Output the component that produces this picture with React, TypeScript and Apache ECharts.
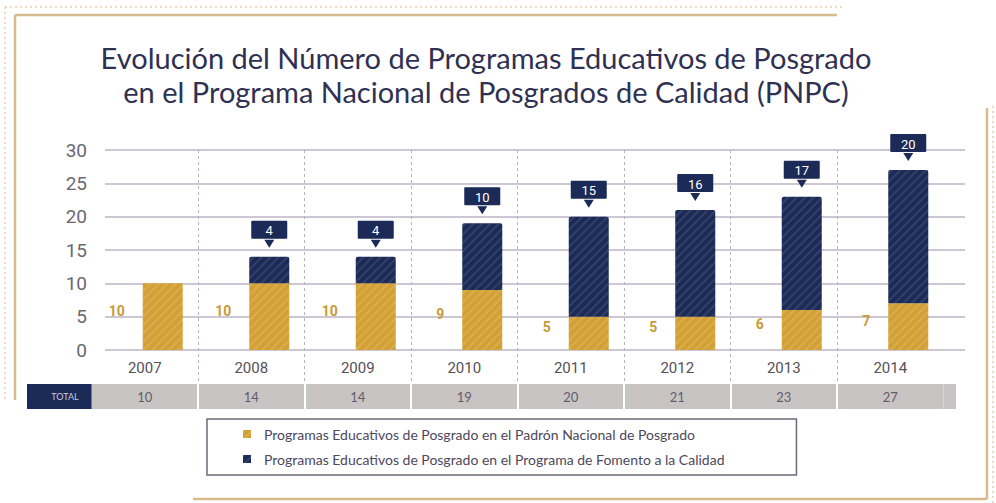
import React, { useEffect, useRef } from "react";
import * as echarts from "echarts";

const years = ["2007", "2008", "2009", "2010", "2011", "2012", "2013", "2014"];
const padronValues = [10, 10, 10, 9, 5, 5, 6, 7];
const fomentoValues = [0, 4, 4, 10, 15, 16, 17, 20];
const totalValues = [10, 14, 14, 19, 20, 21, 23, 27];
const yTicks = { min: 0, max: 30, interval: 5 };

const seriesNames = [
  "Programas Educativos de Posgrado en el Padrón Nacional de Posgrado",
  "Programas Educativos de Posgrado en el Programa de Fomento a la Calidad",
];
const titleLines = [
  "Evolución del Número de Programas Educativos de Posgrado",
  "en el Programa Nacional de Posgrados de Calidad (PNPC)",
];

const GOLD = "#d3a034";
const NAVY = "#1b2a56";
const TAN = "#d8bb8c";
const DOT = "#eadbc2";
const COND = "'Liberation Sans Narrow', 'Roboto', sans-serif";

export default function App() {
  const ref = useRef<HTMLDivElement>(null);
  useEffect(() => {
    if (!ref.current) return;
    const chart = echarts.init(ref.current, undefined, { renderer: "svg" });
    const stripe = (c: string) => ({
      symbol: "rect",
      symbolSize: 1,
      color: c,
      dashArrayX: [1, 0],
      dashArrayY: [2, 4],
      rotation: -Math.PI / 4,
    });
    const option: any = {
      animation: false,
      backgroundColor: "#ffffff",
      title: {
        text: titleLines.join("\n"),
        left: 481,
        top: 35,
        textAlign: "center",
        textStyle: {
          fontFamily: "Lato",
          fontWeight: "normal",
          fontSize: 29,
          lineHeight: 34,
          color: "#2f3152",
        },
      },
      legend: {
        data: seriesNames,
        orient: "vertical",
        left: 207,
        top: 419,
        padding: [8, 72, 9, 36],
        itemGap: 11,
        itemWidth: 8,
        itemHeight: 8,
        icon: "rect",
        borderColor: "#6e6879",
        borderWidth: 1.5,
        selectedMode: false,
        textStyle: {
          fontFamily: "Lato",
          fontSize: 14,
          color: "#4d475c",
          padding: [0, 0, 0, 8],
        },
      },
      grid: [
        { left: 105, right: 31, top: 150, bottom: 153, outerBoundsMode: "none" },
        { left: 91.5, right: 52.5, top: 150, bottom: 120, outerBoundsMode: "none" },
        { left: 91.5, right: 52.5, top: 384, bottom: 94, outerBoundsMode: "none" },
      ],
      xAxis: [
        { gridIndex: 0, type: "value", min: 0, max: 1, show: false },
        {
          gridIndex: 1,
          type: "category",
          data: years,
          axisLine: { show: false },
          axisTick: { show: false },
          axisLabel: {
            margin: -15,
            verticalAlign: "middle",
            fontFamily: COND,
            fontSize: 15,
            color: "#555058",
          },
          splitLine: {
            show: true,
            showMinLine: false,
            showMaxLine: false,
            lineStyle: { color: "#b8b2bf", width: 1, type: [3, 3] },
          },
        },
        {
          gridIndex: 2,
          type: "category",
          data: years,
          axisLine: { show: false },
          axisTick: { show: false },
          axisLabel: {
            margin: -12,
            verticalAlign: "middle",
            formatter: (_v: string, i: number) => String(totalValues[i]),
            fontFamily: "Lato",
            fontSize: 13,
            color: "#625c6c",
          },
          splitArea: { show: true, areaStyle: { color: ["#c8c4c4"] } },
          splitLine: {
            show: true,
            showMinLine: false,
            showMaxLine: false,
            lineStyle: { color: "#ffffff", width: 2 },
          },
        },
      ],
      yAxis: [
        {
          gridIndex: 0,
          type: "value",
          min: yTicks.min,
          max: yTicks.max,
          interval: yTicks.interval,
          axisLine: { show: false },
          axisTick: { show: false },
          axisLabel: {
            margin: 18,
            fontFamily: "Roboto",
            fontSize: 19,
            color: "#6b6870",
          },
          splitLine: { show: true, lineStyle: { color: "#cdc6d4", width: 2 } },
        },
        {
          gridIndex: 1,
          type: "value",
          min: yTicks.max - (233 / 200) * (yTicks.max - yTicks.min),
          max: yTicks.max,
          show: false,
          splitLine: { show: false },
        },
        { gridIndex: 2, type: "value", min: 0, max: 1, show: false, splitLine: { show: false } },
      ],
      series: [
        {
          name: "spacer",
          type: "bar",
          xAxisIndex: 1,
          yAxisIndex: 1,
          stack: "spacer",
          barWidth: 40,
          barGap: "-10%",
          silent: true,
          itemStyle: { color: "rgba(0,0,0,0)" },
          data: years.map(() => 0),
        },
        {
          name: seriesNames[0],
          type: "bar",
          xAxisIndex: 1,
          yAxisIndex: 1,
          stack: "total",
          barWidth: 40,
          barGap: "-10%",
          itemStyle: { color: GOLD, borderRadius: 1, decal: stripe("rgba(255,255,255,0.13)") },
          label: {
            show: true,
            position: "left",
            distance: 18,
            offset: [0, -6],
            fontFamily: COND,
            fontWeight: "bold",
            fontSize: 14,
            color: "#c99a38",
          },
          data: padronValues,
        },
        {
          name: seriesNames[1],
          type: "bar",
          xAxisIndex: 1,
          yAxisIndex: 1,
          stack: "total",
          barWidth: 40,
          barGap: "-10%",
          itemStyle: { color: NAVY, borderRadius: [2, 2, 0, 0], decal: stripe("rgba(255,255,255,0.1)") },
          label: {
            show: true,
            position: "top",
            distance: 18,
            backgroundColor: NAVY,
            borderRadius: 1,
            width: 36,
            height: 14,
            lineHeight: 14,
            align: "center",
            padding: [3, 0, 1, 0],
            fontFamily: COND,
            fontSize: 13,
            color: "#ffffff",
          },
          data: fomentoValues.map((v) => (v === 0 ? { value: v, label: { show: false } } : v)),
        },
        {
          name: "pointer",
          type: "scatter",
          xAxisIndex: 1,
          yAxisIndex: 1,
          silent: true,
          symbol: "triangle",
          symbolSize: [10, 8],
          symbolRotate: 180,
          symbolOffset: [18, -13],
          itemStyle: { color: NAVY, opacity: 1 },
          z: 5,
          data: fomentoValues.map((v, i) => (v === 0 ? "-" : padronValues[i] + v)),
        },
      ],
      graphic: [
        { type: "line", shape: { x1: 5, y1: 7, x2: 842, y2: 7 }, style: { stroke: DOT, lineWidth: 2, lineDash: [2, 3] } },
        { type: "line", shape: { x1: 5, y1: 7, x2: 5, y2: 402 }, style: { stroke: DOT, lineWidth: 2, lineDash: [2, 3] } },
        { type: "line", shape: { x1: 15, y1: 15, x2: 837, y2: 15 }, style: { stroke: TAN, lineWidth: 2.5 } },
        { type: "line", shape: { x1: 15, y1: 15, x2: 15, y2: 400 }, style: { stroke: TAN, lineWidth: 2.5 } },
        { type: "line", shape: { x1: 993, y1: 106, x2: 993, y2: 503 }, style: { stroke: DOT, lineWidth: 2, lineDash: [2, 3] } },
        { type: "line", shape: { x1: 987, y1: 108, x2: 987, y2: 499 }, style: { stroke: TAN, lineWidth: 2.5 } },
        { type: "line", shape: { x1: 193, y1: 499, x2: 987, y2: 499 }, style: { stroke: TAN, lineWidth: 2.5 } },
        { type: "rect", shape: { x: 943.5, y: 384, width: 12.5, height: 25 }, style: { fill: "#c8c4c4" } },
        { type: "rect", shape: { x: 27, y: 384, width: 76, height: 25 }, style: { fill: NAVY } },
        {
          type: "text",
          x: 65,
          y: 396.5,
          style: {
            text: "TOTAL",
            fill: "#c9cde0",
            fontSize: 9,
            fontFamily: "Lato",
            align: "center",
            verticalAlign: "middle",
          },
        },
      ],
    };
    chart.setOption(option);
    return () => chart.dispose();
  }, []);
  return (
    <div
      ref={ref}
      style={{ position: "absolute", left: 0, top: 0, width: 996, height: 503 }}
    />
  );
}
